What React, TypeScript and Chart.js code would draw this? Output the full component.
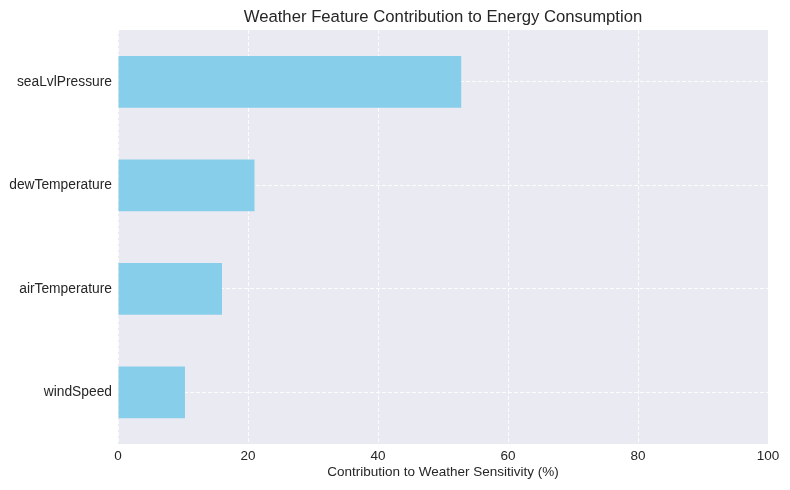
import React, { useEffect, useRef } from 'react';
import { Chart, registerables } from 'chart.js';

Chart.register(...registerables);

const features = ['seaLvlPressure', 'dewTemperature', 'airTemperature', 'windSpeed'];
const contribution = [52.8, 21.0, 16.0, 10.3];
const xTicks = [0, 20, 40, 60, 80, 100];
const chartTitle = 'Weather Feature Contribution to Energy Consumption';

const FONT = '"Liberation Sans", Arial, sans-serif';
const TEXT = '#262626';

// grey panel behind the plot, and the title centred over the plot area (like matplotlib)
const panel = {
  id: 'panel',
  beforeDraw(chart: Chart) {
    const { ctx, chartArea: a } = chart;
    ctx.save();
    ctx.fillStyle = '#EAEAF2';
    ctx.fillRect(a.left, a.top, a.right - a.left, a.bottom - a.top);
    ctx.fillStyle = TEXT;
    ctx.font = `16.7px ${FONT}`;
    ctx.textAlign = 'center';
    ctx.textBaseline = 'alphabetic';
    ctx.fillText(chartTitle, (a.left + a.right) / 2, 22);
    ctx.restore();
  },
};

export default function App() {
  const ref = useRef<HTMLCanvasElement>(null);
  const chartRef = useRef<Chart | null>(null);

  useEffect(() => {
    if (!ref.current) return;
    const ctx = ref.current.getContext('2d'); if (!ctx) return;

    const gridColor = 'rgba(255,255,255,0.85)';

    chartRef.current?.destroy();
    chartRef.current = new Chart(ctx, {
      type: 'bar',
      data: {
        labels: features,
        datasets: [{
          data: contribution,
          backgroundColor: '#87CEEB',
          barPercentage: 0.5,
          categoryPercentage: 1,
        }],
      },
      plugins: [panel],
      options: {
        indexAxis: 'y',
        responsive: false,
        animation: false,
        layout: { padding: { left: 0, right: 22, top: 30, bottom: 0 } },
        plugins: {
          legend: { display: false },
          tooltip: { enabled: false },
        },
        scales: {
          x: {
            type: 'linear',
            min: 0,
            max: 100,
            afterBuildTicks: (s: any) => { s.ticks = xTicks.map(v => ({ value: v })); },
            afterFit: (s: any) => { s.height = 46; },
            border: { display: false, dash: [4, 2] },
            grid: { color: gridColor, lineWidth: 1, drawTicks: false },
            ticks: { color: TEXT, padding: 4, font: { family: FONT, size: 13.5 } },
            title: {
              display: true,
              text: 'Contribution to Weather Sensitivity (%)',
              color: TEXT,
              font: { family: FONT, size: 13.5 },
              padding: { top: 0, bottom: 10 },
            },
          },
          y: {
            afterFit: (s: any) => { s.width = 118; },
            border: { display: false, dash: [4, 2] },
            grid: { offset: false, color: gridColor, lineWidth: 1, drawTicks: false },
            ticks: { color: TEXT, padding: 6, font: { family: FONT, size: 13.8 } },
          },
        },
      },
    });

    return () => chartRef.current?.destroy();
  }, []);

  return (
    <div style={{ position: 'absolute', left: 0, top: 0, width: 790, height: 490, background: '#fff' }}>
      <canvas ref={ref} width={790} height={490}></canvas>
    </div>
  );
}
